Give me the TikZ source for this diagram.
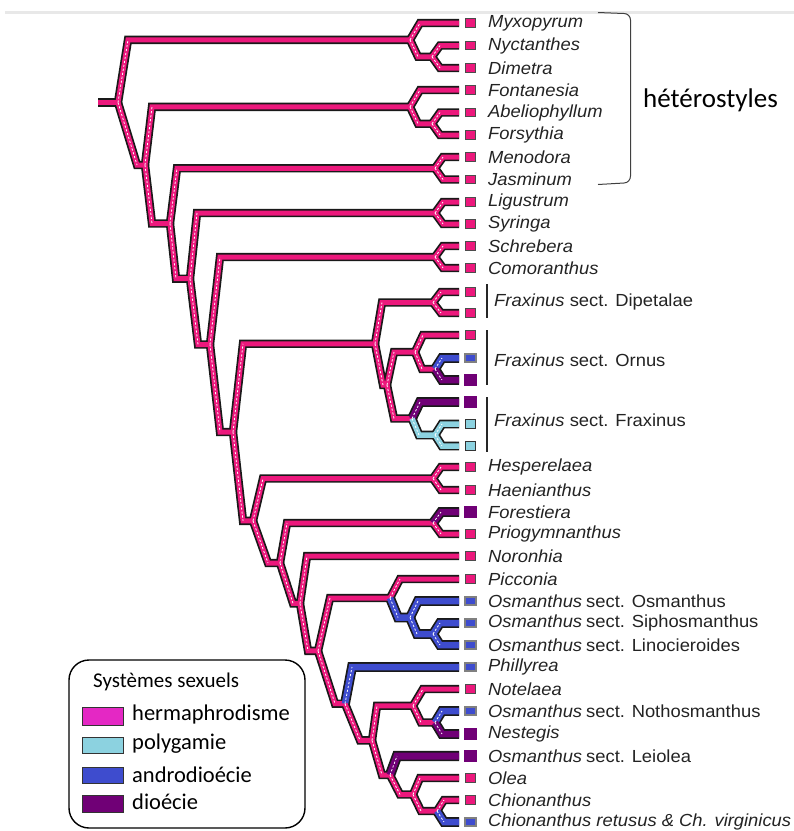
\documentclass[tikz,border=0pt]{standalone}
\usepackage{fontspec}
\setmainfont{Liberation Sans}
\newfontfamily\labfont[FakeStretch=1.05]{Liberation Sans}
\newfontfamily\calfont{Carlito}
\usetikzlibrary{calc}
\definecolor{hpink}{RGB}{236,24,124}
\definecolor{pblue}{RGB}{62,76,206}
\definecolor{ppurp}{RGB}{112,0,118}
\definecolor{plight}{RGB}{140,210,224}
\definecolor{legpink}{RGB}{228,40,196}
\definecolor{txt}{RGB}{35,35,35}
\pgfdeclarelayer{under}
\pgfdeclarelayer{over}
\pgfsetlayers{under,main,over}
\tikzset{
  brout/.style={draw=black!90, line width=#1, line join=miter, miter limit=3},
  brin/.style={line width=#1, line join=miter, miter limit=3, shift={(0.9,0.9)}},
  brdash/.style={draw=white, line width=0.8, dash pattern=on 2.2pt off 1.8pt, shift={(0.9,0.9)}},
  tpink/.style={draw=black!70, line width=1.4, fill=hpink, minimum width=10.5, minimum height=8.5, inner sep=0},
  tblue/.style={draw=black!50, line width=1.9, fill=pblue, minimum width=10.5, minimum height=8.5, inner sep=0},
  tpurp/.style={fill=ppurp, minimum width=13, minimum height=12, inner sep=0},
  tlight/.style={draw=black!80, line width=1.4, fill=plight, minimum width=10.5, minimum height=8.5, inner sep=0},
  lab/.style={anchor=west, inner sep=0, text=txt, font=\labfont\fontsize{17.5}{20}\selectfont\itshape},
  seclab/.style={anchor=west, inner sep=0, text=txt, font=\labfont\fontsize{17.5}{20}\selectfont},
  legtxt/.style={anchor=west, inner sep=0, font=\calfont\fontsize{22.5}{24}\selectfont},
  swatch/.style={draw=black!80, line width=1},
  secbar/.style={draw=black!85, line width=1.6}
}
% #1 inner width, #2 colour, #3 parent, #4 child, #5 slant offset
\newcommand\br[5][5]{%
  \pgfmathsetmacro\outw{#1+3.4}%
  \begin{pgfonlayer}{under}
  \draw[brout=\outw] (#3) -- ($(#3 |- #4)+(#5,0)$) -- (#4);
  \end{pgfonlayer}
  \draw[brin=#1, draw=#2] (#3) -- ($(#3 |- #4)+(#5,0)$) -- (#4);
  \begin{pgfonlayer}{over}
  \draw[brdash] (#3) -- ($(#3 |- #4)+(#5,0)$);
  \end{pgfonlayer}
}
\newcommand\tip[4]{%
  \coordinate (#1) at (459,#2);
  \node[#3] (#1b) at (470.5,#2) {};
  \ifx\relax#4\relax\else\node[lab] (#1l) at (488,#2) {#4};\fi
}
\begin{document}
\begin{tikzpicture}[x=1pt,y=-1pt]
\useasboundingbox (0,0) rectangle (794,831);
\draw[black!9, line width=2.5] (5,12.5) -- (794,12.5);

% tips
\tip{t0}{23}{tpink}{Myxopyrum}
\tip{t1}{45.5}{tpink}{Nyctanthes}
\tip{t2}{68}{tpink}{Dimetra}
\tip{t3}{90}{tpink}{Fontanesia}
\tip{t4}{112.5}{tpink}{Abeliophyllum}
\tip{t5}{135}{tpink}{Forsythia}
\tip{t6}{157}{tpink}{Menodora}
\tip{t7}{179.5}{tpink}{Jasminum}
\tip{t8}{202}{tpink}{Ligustrum}
\tip{t9}{224}{tpink}{Syringa}
\tip{t10}{246}{tpink}{Schrebera}
\tip{t11}{268}{tpink}{Comoranthus}
\tip{t12}{292}{tpink}{}
\tip{t13}{313}{tpink}{}
\tip{t14}{335}{tpink}{}
\tip{t15}{358}{tblue}{}
\tip{t16}{380}{tpurp}{}
\tip{t17}{402}{tpurp}{}
\tip{t18}{424}{tlight}{}
\tip{t19}{446}{tlight}{}
\tip{t20}{467}{tpink}{Hesperelaea}
\tip{t21}{490}{tpink}{Haenianthus}
\tip{t22}{512}{tpurp}{Forestiera}
\tip{t23}{534}{tpink}{Priogymnanthus}
\tip{t24}{556}{tpink}{Noronhia}
\tip{t25}{579}{tpink}{Picconia}
\tip{t26}{601}{tblue}{Osmanthus\hspace{4pt}\upshape sect. Osmanthus}
\tip{t27}{623}{tblue}{Osmanthus\hspace{4pt}\upshape sect. Siphosmanthus}
\tip{t28}{645}{tblue}{Osmanthus\hspace{4pt}\upshape sect. Linocieroides}
\tip{t29}{667}{tblue}{Phillyrea}
\tip{t30}{689}{tpink}{Notelaea}
\tip{t31}{711}{tblue}{Osmanthus\hspace{4pt}\upshape sect. Nothosmanthus}
\tip{t32}{734}{tpurp}{Nestegis}
\tip{t33}{756}{tpurp}{Osmanthus\hspace{4pt}\upshape sect. Leiolea}
\tip{t34}{778}{tpink}{Olea}
\tip{t35}{800}{tpink}{Chionanthus}
\tip{t36}{822}{tblue}{Chionanthus retusus \& Ch. virginicus}

% Fraxinus sections
\draw[secbar] (487,284) -- (487,318);
\draw[secbar] (487,330) -- (487,385);
\draw[secbar] (487,397) -- (487,452);
\node[seclab] (fdip) at (494,302) {\itshape Fraxinus\upshape\ sect. Dipetalae};
\node[seclab] (forn) at (494,360) {\itshape Fraxinus\upshape\ sect. Ornus};
\node[seclab] (ffra) at (494,420) {\itshape Fraxinus\upshape\ sect. Fraxinus};

% internal nodes
\coordinate (R0s) at (98,102.5);
\coordinate (R0) at (118,102.5);
\coordinate (A) at (410,39.9);
\coordinate (Asub) at (432,56.75);
\coordinate (N1) at (145,165);
\coordinate (B) at (410,106.9);
\coordinate (Bsub) at (432,123.75);
\coordinate (N2) at (170,223.5);
\coordinate (C) at (435,168.25);
\coordinate (N3) at (190,278.7);
\coordinate (LS) at (435,213);
\coordinate (N4) at (210,344.5);
\coordinate (SC) at (435,257);
\coordinate (N5) at (233,432);
\coordinate (FR) at (375,343.75);
\coordinate (DI) at (433,302.5);
\coordinate (ON) at (387,385);
\coordinate (OR) at (415,352);
\coordinate (ORs) at (435,369);
\coordinate (FS) at (412,418.5);
\coordinate (FSs) at (435,435);
\coordinate (N6) at (253,520.8);
\coordinate (HH) at (433,478.5);
\coordinate (N7) at (280,563);
\coordinate (FP) at (433,523);
\coordinate (N8) at (300,603.4);
\coordinate (N9) at (318,650.9);
\coordinate (PO) at (390,598);
\coordinate (OG) at (410,617.5);
\coordinate (OGs) at (433,634);
\coordinate (N10) at (345,703.7);
\coordinate (N11) at (372,740.4);
\coordinate (NC) at (413,705.75);
\coordinate (NCs) at (435,722.5);
\coordinate (N12) at (390,775);
\coordinate (N13) at (413,794.5);
\coordinate (CH) at (437,811);

% root stem
\begin{pgfonlayer}{under}
\draw[brout=8.4] (R0s) -- (R0);
\end{pgfonlayer}
\draw[brin=5, draw=hpink] (R0s) -- (R0);

% branches
\br{hpink}{R0}{A}{10}
\br{hpink}{R0}{N1}{19}
\br{hpink}{A}{t0}{10}
\br{hpink}{A}{Asub}{8}
\br{hpink}{Asub}{t1}{8}
\br{hpink}{Asub}{t2}{8}
\br{hpink}{N1}{B}{7}
\br{hpink}{B}{t3}{10}
\br{hpink}{B}{Bsub}{8}
\br{hpink}{Bsub}{t4}{8}
\br{hpink}{Bsub}{t5}{8}
\br{hpink}{N1}{N2}{7}
\br{hpink}{N2}{C}{7}
\br{hpink}{C}{t6}{8}
\br{hpink}{C}{t7}{8}
\br{hpink}{N2}{N3}{6}
\br{hpink}{N3}{LS}{7}
\br{hpink}{LS}{t8}{8}
\br{hpink}{LS}{t9}{8}
\br{hpink}{N3}{N4}{8}
\br{hpink}{N4}{SC}{10}
\br{hpink}{SC}{t10}{8}
\br{hpink}{SC}{t11}{8}
\br{hpink}{N4}{N5}{10}
\br{hpink}{N5}{FR}{10}
\br{hpink}{FR}{DI}{7}
\br{hpink}{DI}{t12}{8}
\br{hpink}{DI}{t13}{8}
\br{hpink}{FR}{ON}{8}
\br{hpink}{ON}{OR}{7}
\br{hpink}{OR}{t14}{8}
\br{hpink}{OR}{ORs}{7}
\br[6.5]{pblue}{ORs}{t15}{7}
\br[6.5]{ppurp}{ORs}{t16}{7}
\br{hpink}{ON}{FS}{7}
\br[6.5]{ppurp}{FS}{t17}{8}
\br[5.5]{plight}{FS}{FSs}{7}
\br[5.5]{plight}{FSs}{t18}{7}
\br[5.5]{plight}{FSs}{t19}{7}
\br{hpink}{N5}{N6}{10}
\br{hpink}{N6}{HH}{10}
\br{hpink}{HH}{t20}{8}
\br{hpink}{HH}{t21}{8}
\br{hpink}{N6}{N7}{15}
\br{hpink}{N7}{FP}{7}
\br[6.5]{ppurp}{FP}{t22}{8}
\br{hpink}{FP}{t23}{8}
\br{hpink}{N7}{N8}{13}
\br{hpink}{N8}{t24}{7}
\br{hpink}{N8}{N9}{8}
\br{hpink}{N9}{PO}{12}
\br{hpink}{PO}{t25}{10}
\br[6.5]{pblue}{PO}{OG}{8}
\br[6.5]{pblue}{OG}{t26}{8}
\br[6.5]{pblue}{OG}{OGs}{7}
\br[6.5]{pblue}{OGs}{t27}{7}
\br[6.5]{pblue}{OGs}{t28}{7}
\br{hpink}{N9}{N10}{17}
\br[6.5]{pblue}{N10}{t29}{7}
\br{hpink}{N10}{N11}{15}
\br{hpink}{N11}{NC}{5}
\br{hpink}{NC}{t30}{10}
\br{hpink}{NC}{NCs}{8}
\br[6.5]{pblue}{NCs}{t31}{7}
\br[6.5]{ppurp}{NCs}{t32}{7}
\br{hpink}{N11}{N12}{10}
\br[7]{ppurp}{N12}{t33}{7}
\br{hpink}{N12}{N13}{10}
\br{hpink}{N13}{t34}{7}
\br{hpink}{N13}{CH}{8}
\br{hpink}{CH}{t35}{7}
\br[6.5]{pblue}{CH}{t36}{7}

% heterostyles bracket
\draw[black!75, line width=1] (598,12.5) -- (624,13.5) to[out=0,in=90] (630.5,20) -- (630.5,176) to[out=-90,in=0] (624,183) -- (598,184.5);
\node[anchor=west, inner sep=0, font=\calfont\fontsize{27}{30}\selectfont] (het) at (643,100) {hétérostyles};

% legend
\draw[black, line width=1.4, rounded corners=20] (69,660) rectangle (305,828);
\node[legtxt, font=\calfont\fontsize{21}{24}\selectfont] (legt) at (93,682) {Systèmes sexuels};
\draw[swatch, fill=legpink] (82,707) rectangle (123,725);
\draw[swatch, fill=plight] (82,737) rectangle (123,753);
\draw[swatch, fill=pblue] (82,767) rectangle (123,783);
\draw[swatch, fill=ppurp] (82,795) rectangle (123,812);
\node[legtxt] (l1) at (132,714) {hermaphrodisme};
\node[legtxt] (l2) at (132,744) {polygamie};
\node[legtxt] (l3) at (132,775) {androdioécie};
\node[legtxt] (l4) at (132,802) {dioécie};
\end{tikzpicture}
\end{document}
